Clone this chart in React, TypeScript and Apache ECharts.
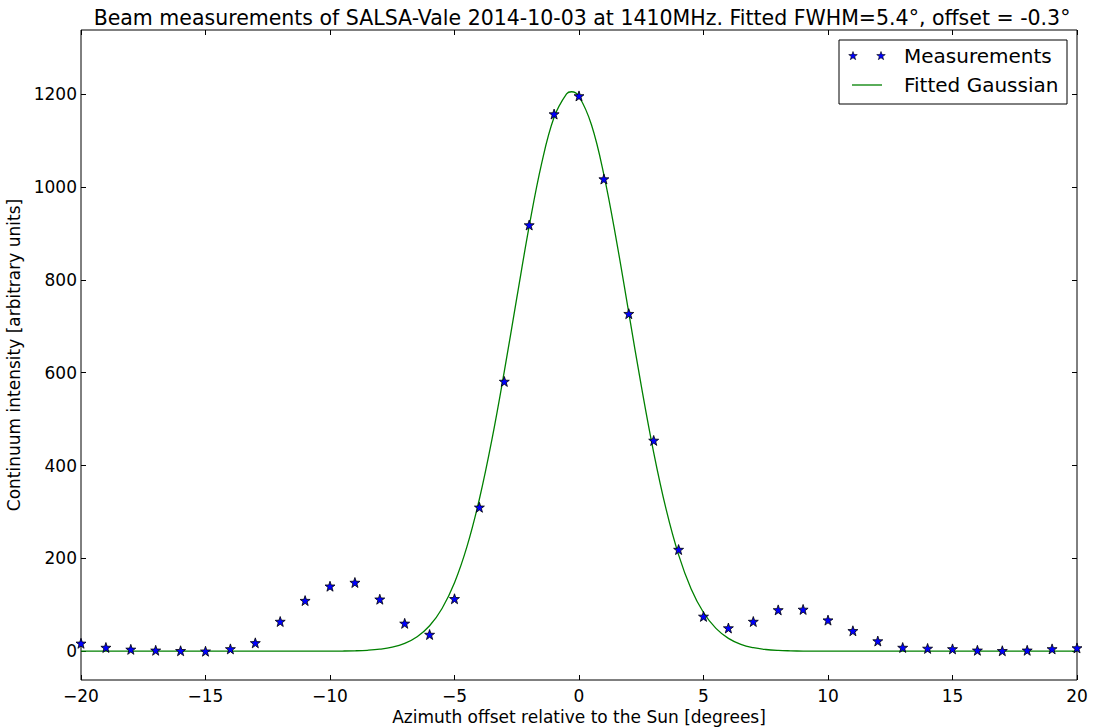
import React, { useEffect, useRef } from "react";
import * as echarts from "echarts";

const measX = [-20, -19, -18, -17, -16, -15, -14, -13, -12, -11, -10, -9, -8, -7, -6, -5, -4, -3, -2, -1, 0, 1, 2, 3, 4, 5, 6, 7, 8, 9, 10, 11, 12, 13, 14, 15, 16, 17, 18, 19, 20];
const measY = [17, 8, 4, 2, 1, 0, 5, 18, 64, 109, 140, 148, 112, 60, 36, 113, 310, 581, 918, 1157, 1196, 1017, 727, 454, 219, 75, 50, 64, 89, 90, 67, 44, 22, 8, 6, 5, 2, 1, 2, 5, 7];

const gaussX = [-20, -15, -12, -11, -10, -9.5, -9, -8.5, -8, -7.5, -7, -6.5, -6, -5.5, -5, -4.5, -4, -3.5, -3, -2.5, -2, -1.5, -1, -0.5, -0.3, 0, 0.5, 1, 1.5, 2, 2.5, 3, 3.5, 4, 4.5, 5, 5.5, 6, 6.5, 7, 7.5, 8, 8.5, 9, 9.5, 10, 11, 15, 20];
const gaussY = [0, 0, 0, 0, 0.2, 0.4, 0.9, 2, 4.3, 8.7, 16.9, 31.2, 54.8, 92.1, 147.5, 225.2, 327.8, 455.1, 602.5, 760.5, 915.4, 1050.8, 1150.2, 1200.4, 1205, 1194.7, 1133.8, 1026.1, 885.5, 728.7, 571.8, 427.8, 305.3, 207.6, 134.7, 83.4, 49.2, 27.7, 14.8, 7.6, 3.7, 1.7, 0.8, 0.3, 0.1, 0, 0, 0, 0];

const xTicks = [-20, -15, -10, -5, 0, 5, 10, 15, 20];
const yTicks = [0, 200, 400, 600, 800, 1000, 1200];

const titleText = "Beam measurements of SALSA-Vale 2014-10-03 at 1410MHz. Fitted FWHM=5.4°, offset = -0.3°";
const seriesNames = ["Measurements", "Fitted Gaussian"];

const STAR = "path://M0,-10L2.35,-3.24L9.51,-3.09L3.8,1.24L5.88,8.09L0,4L-5.88,8.09L-3.8,1.24L-9.51,-3.09L-2.35,-3.24Z";
const FONT = "DejaVu Sans";

function starPoints(cx: number, cy: number, r: number) {
  const pts: number[][] = [];
  for (let i = 0; i < 10; i++) {
    const rr = i % 2 === 0 ? r : r * 0.4;
    const a = -Math.PI / 2 + (i * Math.PI) / 5;
    pts.push([cx + rr * Math.cos(a), cy + rr * Math.sin(a)]);
  }
  return pts;
}

const fmtMinus = (v: number) => String(v).replace("-", "\u2212");

export default function App() {
  const ref = useRef<HTMLDivElement>(null);
  useEffect(() => {
    if (!ref.current) return;
    const chart = echarts.init(ref.current, null, { renderer: "svg" });
    const tickStyle = { show: true, inside: true, length: 5, lineStyle: { color: "#000", width: 1 } };
    const hiddenLine = { show: false, onZero: false };
    const option: any = {
      animation: false,
      backgroundColor: "#fff",
      textStyle: { fontFamily: FONT },
      title: {
        text: titleText,
        left: 577,
        top: 2,
        textAlign: "center",
        textStyle: { fontFamily: FONT, fontSize: 20.5, fontWeight: "normal", color: "#000" },
      },
      grid: {
        left: 81,
        right: 20,
        top: 30,
        bottom: 48,
        show: true,
        borderColor: "#000",
        borderWidth: 1,
        backgroundColor: "transparent",
        containLabel: false,
        outerBoundsMode: "none",
      },
      xAxis: [
        {
          type: "value",
          min: -20,
          max: 20,
          interval: 5,
          position: "bottom",
          name: "Azimuth offset relative to the Sun [degrees]",
          nameLocation: "middle",
          nameGap: 27,
          nameTextStyle: { fontFamily: FONT, fontSize: 17, color: "#000" },
          axisLine: hiddenLine,
          axisTick: tickStyle,
          axisLabel: { fontFamily: FONT, fontSize: 17, color: "#000", margin: 7, formatter: fmtMinus },
          splitLine: { show: false },
        },
        {
          type: "value",
          min: -20,
          max: 20,
          interval: 5,
          position: "top",
          axisLine: hiddenLine,
          axisTick: tickStyle,
          axisLabel: { show: false },
          splitLine: { show: false },
        },
      ],
      yAxis: [
        {
          type: "value",
          min: -62,
          max: 1338,
          position: "left",
          name: "Continuum intensity [arbitrary units]",
          nameLocation: "middle",
          nameGap: 50,
          nameRotate: 90,
          nameTextStyle: { fontFamily: FONT, fontSize: 17, color: "#000" },
          axisLine: hiddenLine,
          axisTick: { ...tickStyle, customValues: yTicks },
          axisLabel: { fontFamily: FONT, fontSize: 17, color: "#000", margin: 4, customValues: yTicks, formatter: fmtMinus },
          splitLine: { show: false },
        },
        {
          type: "value",
          min: -62,
          max: 1338,
          position: "right",
          axisLine: hiddenLine,
          axisTick: { ...tickStyle, customValues: yTicks },
          axisLabel: { show: false, customValues: yTicks },
          splitLine: { show: false },
        },
      ],
      series: [
        {
          name: seriesNames[1],
          type: "line",
          xAxisIndex: 0,
          yAxisIndex: 0,
          data: gaussX.map((x, i) => [x, gaussY[i]]),
          showSymbol: false,
          smooth: 0.4,
          lineStyle: { color: "#008000", width: 1.3 },
          z: 2,
        },
        {
          name: seriesNames[0],
          type: "scatter",
          xAxisIndex: 0,
          yAxisIndex: 0,
          data: measX.map((x, i) => [x, measY[i]]),
          symbol: STAR,
          symbolSize: 10,
          itemStyle: { color: "#0000ff", borderColor: "#000", borderWidth: 0.8, opacity: 1 },
          z: 3,
        },
      ],
      graphic: [
        {
          type: "group",
          z: 100,
          children: [
            { type: "rect", shape: { x: 839, y: 40, width: 228, height: 64 }, style: { fill: "#fff", stroke: "#000", lineWidth: 1 } },
            { type: "polygon", shape: { points: starPoints(853, 56, 4.5) }, style: { fill: "#0000ff", stroke: "#000", lineWidth: 0.6 } },
            { type: "polygon", shape: { points: starPoints(881, 56, 4.5) }, style: { fill: "#0000ff", stroke: "#000", lineWidth: 0.6 } },
            { type: "line", shape: { x1: 852, y1: 85, x2: 882, y2: 85 }, style: { stroke: "#008000", lineWidth: 1.3 } },
            { type: "text", x: 904, y: 56, style: { text: seriesNames[0], fontFamily: FONT, fontSize: 20, fill: "#000", verticalAlign: "middle", align: "left" } },
            { type: "text", x: 904, y: 85, style: { text: seriesNames[1], fontFamily: FONT, fontSize: 20, fill: "#000", verticalAlign: "middle", align: "left" } },
          ],
        },
      ],
    };
    chart.setOption(option);
    return () => chart.dispose();
  }, []);
  return <div ref={ref} style={{ position: "fixed", left: 0, top: 0, width: 1097, height: 728 }} />;
}
